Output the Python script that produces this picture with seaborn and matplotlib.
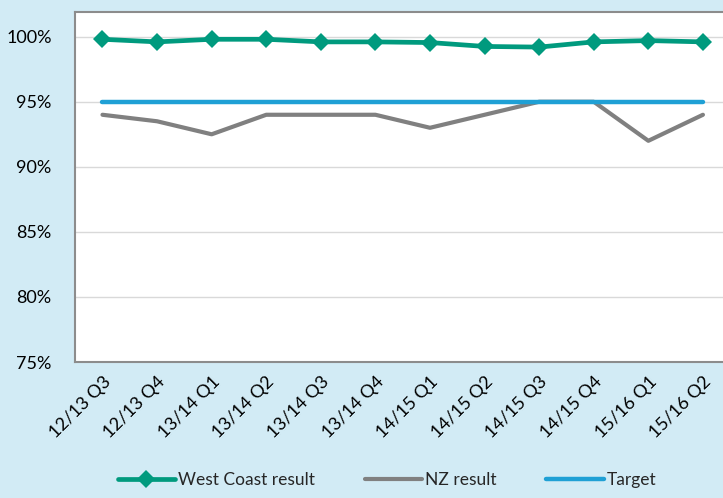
import numpy as np
import pandas as pd
import matplotlib
matplotlib.use('Agg')
import matplotlib.pyplot as plt
from matplotlib.ticker import MultipleLocator, FuncFormatter
import seaborn as sns

# data
quarters = ['12/13 Q3', '12/13 Q4', '13/14 Q1', '13/14 Q2', '13/14 Q3', '13/14 Q4',
            '14/15 Q1', '14/15 Q2', '14/15 Q3', '14/15 Q4', '15/16 Q1', '15/16 Q2']
west_coast = [99.8, 99.6, 99.8, 99.8, 99.6, 99.6, 99.55, 99.25, 99.2, 99.6, 99.7, 99.6]
nz_result  = [94.0, 93.5, 92.5, 94.0, 94.0, 94.0, 93.0, 94.0, 95.0, 95.0, 92.0, 94.0]
target     = [95.0] * 12

bg = '#D2EBF5'
c_wc = '#009A7E'
c_nz = '#808080'
c_tg = '#1FA0D5'

sns.set_style('white')
plt.rcParams['font.family'] = ['Lato', 'DejaVu Sans']

fig = plt.figure(figsize=(7.23, 4.98), dpi=100)
fig.patch.set_facecolor(bg)
ax = fig.add_axes([0.104, 0.273, 0.906, 0.703])
ax.set_facecolor('white')

xs = list(range(len(quarters)))
sns.lineplot(x=xs, y=west_coast, ax=ax, color=c_wc, lw=3.4, marker='D', markersize=9.5,
             markeredgewidth=0, label='West Coast result', zorder=4)
sns.lineplot(x=xs, y=nz_result, ax=ax, color=c_nz, lw=3, label='NZ result', zorder=2)
sns.lineplot(x=xs, y=target, ax=ax, color=c_tg, lw=3.2, label='Target', zorder=3,
             solid_capstyle='round')

ax.set_xlim(-0.5, 11.5)
ax.set_ylim(75, 101.9)
ax.yaxis.set_major_locator(MultipleLocator(5))
ax.yaxis.set_major_formatter(FuncFormatter(lambda v, p: f'{v:.0f}%'))
ax.grid(axis='y', color='#D9D9D9', lw=1)
ax.set_axisbelow(True)

ax.set_xticks(xs)
ax.set_xticklabels(quarters, rotation=45, ha='right', rotation_mode='anchor')
ax.set_xticks(np.arange(-0.5, 12, 1), minor=True)
ax.tick_params(axis='x', which='major', length=0, pad=8, labelsize=13, colors='black')
ax.tick_params(axis='x', which='minor', length=6, width=1.2, color='#8C8C8C', direction='out')
ax.tick_params(axis='y', length=0, labelsize=13, pad=17, colors='black')

for s in ['left', 'bottom', 'top']:
    ax.spines[s].set_color('#8C8C8C')
    ax.spines[s].set_linewidth(1.5)
ax.spines['right'].set_visible(False)

handles, labels = ax.get_legend_handles_labels()
ax.get_legend().remove()
fig.legend(handles, labels, loc='lower center', bbox_to_anchor=(0.535, -0.012), ncol=3,
           frameon=False, fontsize=12.5, handlelength=3.3, handletextpad=0.15,
           columnspacing=2.9)

fig.savefig('out.png', dpi=100, facecolor=bg)
